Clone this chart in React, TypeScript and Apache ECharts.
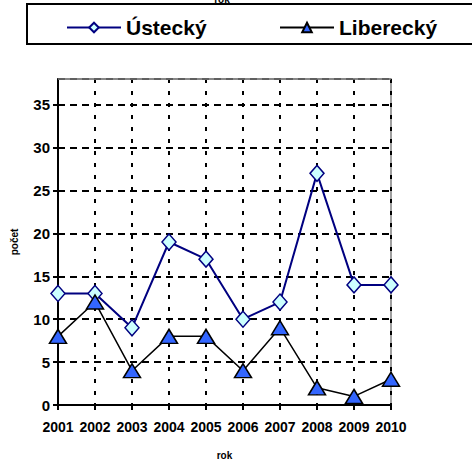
import React, { useEffect, useRef } from "react";
import * as echarts from "echarts";

const years = ["2001", "2002", "2003", "2004", "2005", "2006", "2007", "2008", "2009", "2010"];
const ustecky = [13, 13, 9, 19, 17, 10, 12, 27, 14, 14];
const liberecky = [8, 12, 4, 8, 8, 4, 9, 2, 1, 3];
const seriesNames = ["Ústecký", "Liberecký"];

const FONT = '"Liberation Sans", Arial, sans-serif';

export default function App() {
  const ref = useRef<HTMLDivElement>(null);
  useEffect(() => {
    if (!ref.current) return;
    const chart = echarts.init(ref.current, null, { renderer: "svg" });
    chart.setOption({
      animation: false,
      backgroundColor: "#ffffff",
      grid: {
        left: 58,
        right: 81,
        top: 79,
        bottom: 56,
        outerBoundsMode: "none",
        containLabel: false,
        show: true,
        borderColor: "#808080",
        borderWidth: 1.5,
        backgroundColor: "transparent",
      },
      legend: [
        {
          data: [seriesNames[0]],
          left: 61,
          top: 12,
          itemWidth: 54,
          itemHeight: 12,
          itemGap: 5,
          textStyle: { fontFamily: FONT, fontWeight: "bold", fontSize: 21, color: "#000" },
        },
        {
          data: [seriesNames[1]],
          left: 274,
          top: 12,
          itemWidth: 54,
          itemHeight: 12,
          itemGap: 5,
          textStyle: { fontFamily: FONT, fontWeight: "bold", fontSize: 21, color: "#000" },
        },
      ],
      xAxis: {
        type: "category",
        data: years,
        boundaryGap: false,
        name: "rok",
        nameLocation: "middle",
        nameGap: 45,
        nameTextStyle: { fontFamily: FONT, fontWeight: "bold", fontSize: 10, color: "#000" },
        axisLine: { lineStyle: { color: "#000", width: 2 } },
        axisTick: { show: true, length: 5, lineStyle: { color: "#000", width: 2 } },
        axisLabel: {
          fontFamily: FONT,
          fontWeight: "bold",
          fontSize: 14,
          color: "#000",
          margin: 15,
          interval: 0,
        },
        splitLine: {
          show: true,
          interval: 0,
          lineStyle: { color: "#000", width: 2, type: [4, 8] },
        },
      },
      yAxis: {
        type: "value",
        min: 0,
        max: 38,
        interval: 5,
        name: "počet",
        nameLocation: "middle",
        nameGap: 39,
        nameTextStyle: { fontFamily: FONT, fontWeight: "bold", fontSize: 10, color: "#000" },
        axisLine: { show: true, lineStyle: { color: "#000", width: 2 } },
        axisTick: { show: true, length: 5, lineStyle: { color: "#000", width: 2 } },
        axisLabel: {
          fontFamily: FONT,
          fontWeight: "bold",
          fontSize: 15,
          color: "#000",
          margin: 8,
          showMaxLabel: false,
        },
        splitLine: {
          show: true,
          lineStyle: { color: "#000", width: 2, type: [7, 5] },
        },
      },
      series: [
        {
          name: seriesNames[0],
          type: "line",
          data: ustecky,
          symbol: "diamond",
          symbolSize: [14, 16],
          lineStyle: { color: "#000080", width: 2 },
          itemStyle: { color: "#CCFFFF", borderColor: "#000080", borderWidth: 1.5 },
          z: 3,
        },
        {
          name: seriesNames[1],
          type: "line",
          data: liberecky,
          symbol: "triangle",
          symbolSize: [17, 14],
          lineStyle: { color: "#000000", width: 1.5 },
          itemStyle: { color: "#3366FF", borderColor: "#000000", borderWidth: 1.5 },
          z: 4,
        },
      ],
      graphic: [
        {
          type: "rect",
          shape: { x: 27, y: 4, width: 460, height: 40 },
          style: { fill: "transparent", stroke: "#000", lineWidth: 2 },
          z: 10,
        },
        {
          type: "line",
          shape: { x1: 58, y1: 79, x2: 391, y2: 79 },
          style: { stroke: "#808080", lineWidth: 1.5 },
          z: 10,
        },
        {
          type: "text",
          x: 222,
          y: -1,
          style: {
            text: "rok",
            fontFamily: FONT,
            fontWeight: "bold",
            fontSize: 10,
            fill: "#000",
            align: "center",
            verticalAlign: "middle",
          },
          z: 10,
        },
      ],
    });
    return () => chart.dispose();
  }, []);
  return (
    <div
      ref={ref}
      style={{ position: "fixed", left: 0, top: 0, width: 472, height: 461 }}
    />
  );
}
